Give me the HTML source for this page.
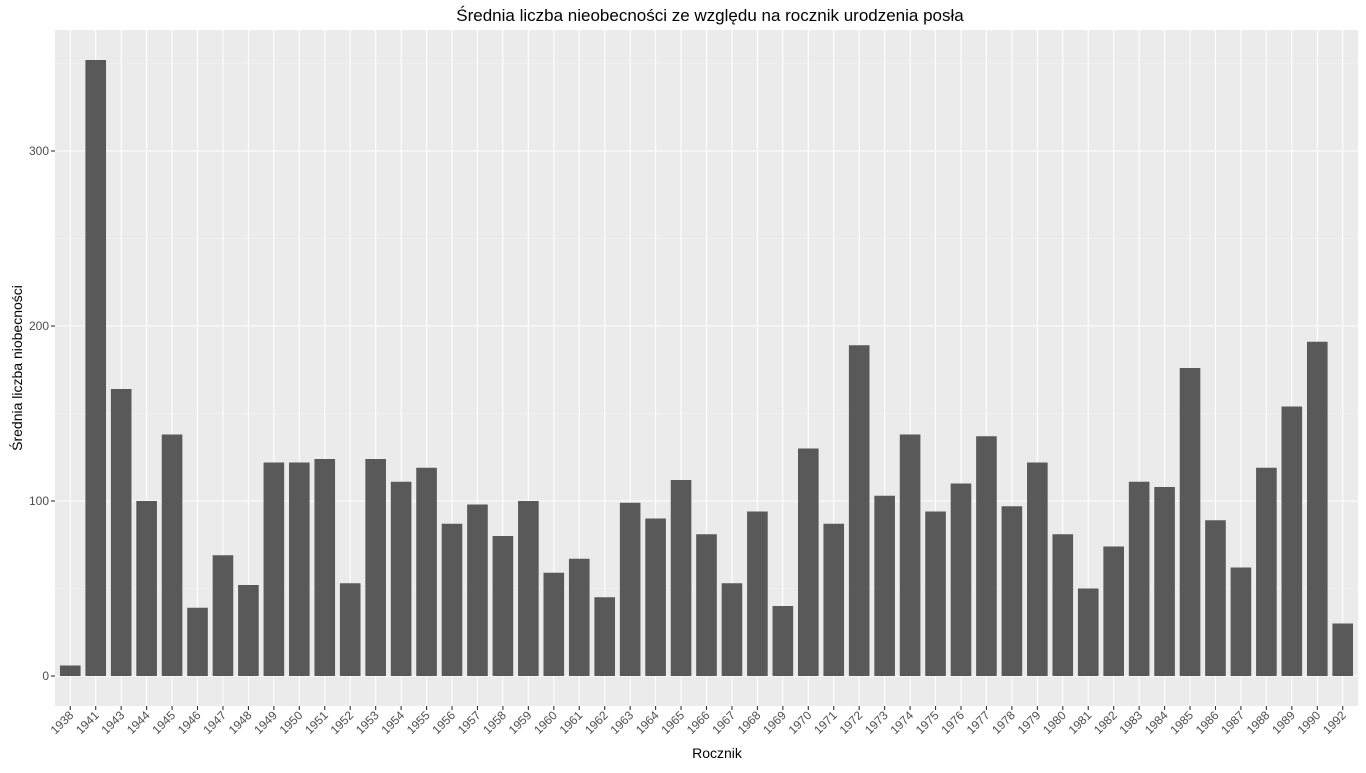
<!DOCTYPE html>
<html><head><meta charset="utf-8"><style>
body{margin:0;background:#fff;font-family:"Liberation Sans",sans-serif;}
</style></head><body>
<svg id="chart" width="1366" height="768" xmlns="http://www.w3.org/2000/svg">
<text x="710" y="21" text-anchor="middle" font-size="17" fill="#000">Średnia liczba nieobecności ze względu na rocznik urodzenia posła</text>
<text x="717" y="758" text-anchor="middle" font-size="14" fill="#000">Rocznik</text>
<text transform="translate(22,368) rotate(-90)" text-anchor="middle" font-size="14" fill="#000">Średnia liczba niobecności</text>
<g id="plot"></g>
</svg>
<script>
const categories=["1938","1941","1943","1944","1945","1946","1947","1948","1949","1950","1951","1952","1953","1954","1955","1956","1957","1958","1959","1960","1961","1962","1963","1964","1965","1966","1967","1968","1969","1970","1971","1972","1973","1974","1975","1976","1977","1978","1979","1980","1981","1982","1983","1984","1985","1986","1987","1988","1989","1990","1992"];
const values=[6,352,164,100,138,39,69,52,122,122,124,53,124,111,119,87,98,80,100,59,67,45,99,90,112,81,53,94,40,130,87,189,103,138,94,110,137,97,122,81,50,74,111,108,176,89,62,119,154,191,30];
const yTicks=[0,100,200,300];
const yMinor=[50,150,250,350];
const NS="http://www.w3.org/2000/svg";
const L=55,R=1358,T=30,B=706;
const y0=676, pxPer=1.75;
function y(v){return y0-v*pxPer;}
const n=categories.length;
const step=(R-L)/(n-1+1.2);
function x(i){return L+step*(0.6+i);}
const g=document.getElementById('plot');
function mk(tag,attrs){const e=document.createElementNS(NS,tag);for(const k in attrs)e.setAttribute(k,attrs[k]);g.appendChild(e);return e;}
const bg=mk('rect',{x:L,y:T,width:R-L,height:B-T,fill:'#ebebeb'});


yMinor.forEach(v=>{if(y(v)>T){const l=mk('line',{x1:L,x2:R,y1:y(v),y2:y(v),stroke:'#f5f5f5','stroke-width':0.6});

}});
yTicks.forEach(v=>{const l=mk('line',{x1:L,x2:R,y1:y(v),y2:y(v),stroke:'#fff','stroke-width':1.1});


const t=mk('line',{x1:L-4,x2:L,y1:y(v),y2:y(v),stroke:'#333','stroke-width':1.1});


const tx=mk('text',{x:L-6,y:y(v)+4,'text-anchor':'end','font-size':12,fill:'#4d4d4d'});tx.textContent=v;

});
categories.forEach((c,i)=>{const cx=x(i);
const l=mk('line',{x1:cx,x2:cx,y1:T,y2:B,stroke:'#fff','stroke-width':1.1});

});
const bw=step*0.81;
categories.forEach((c,i)=>{const cx=x(i);
const r=mk('rect',{x:cx-bw/2,y:y(values[i]),width:bw,height:y(0)-y(values[i]),fill:'#595959'});


const t=mk('line',{x1:cx,x2:cx,y1:B,y2:B+4,stroke:'#333','stroke-width':1.1});


const tx=mk('text',{transform:`translate(${cx+4},${B+10}) rotate(-45)`,'text-anchor':'end','font-size':12,fill:'#4d4d4d'});tx.textContent=c;

});
</script>
</body></html>
